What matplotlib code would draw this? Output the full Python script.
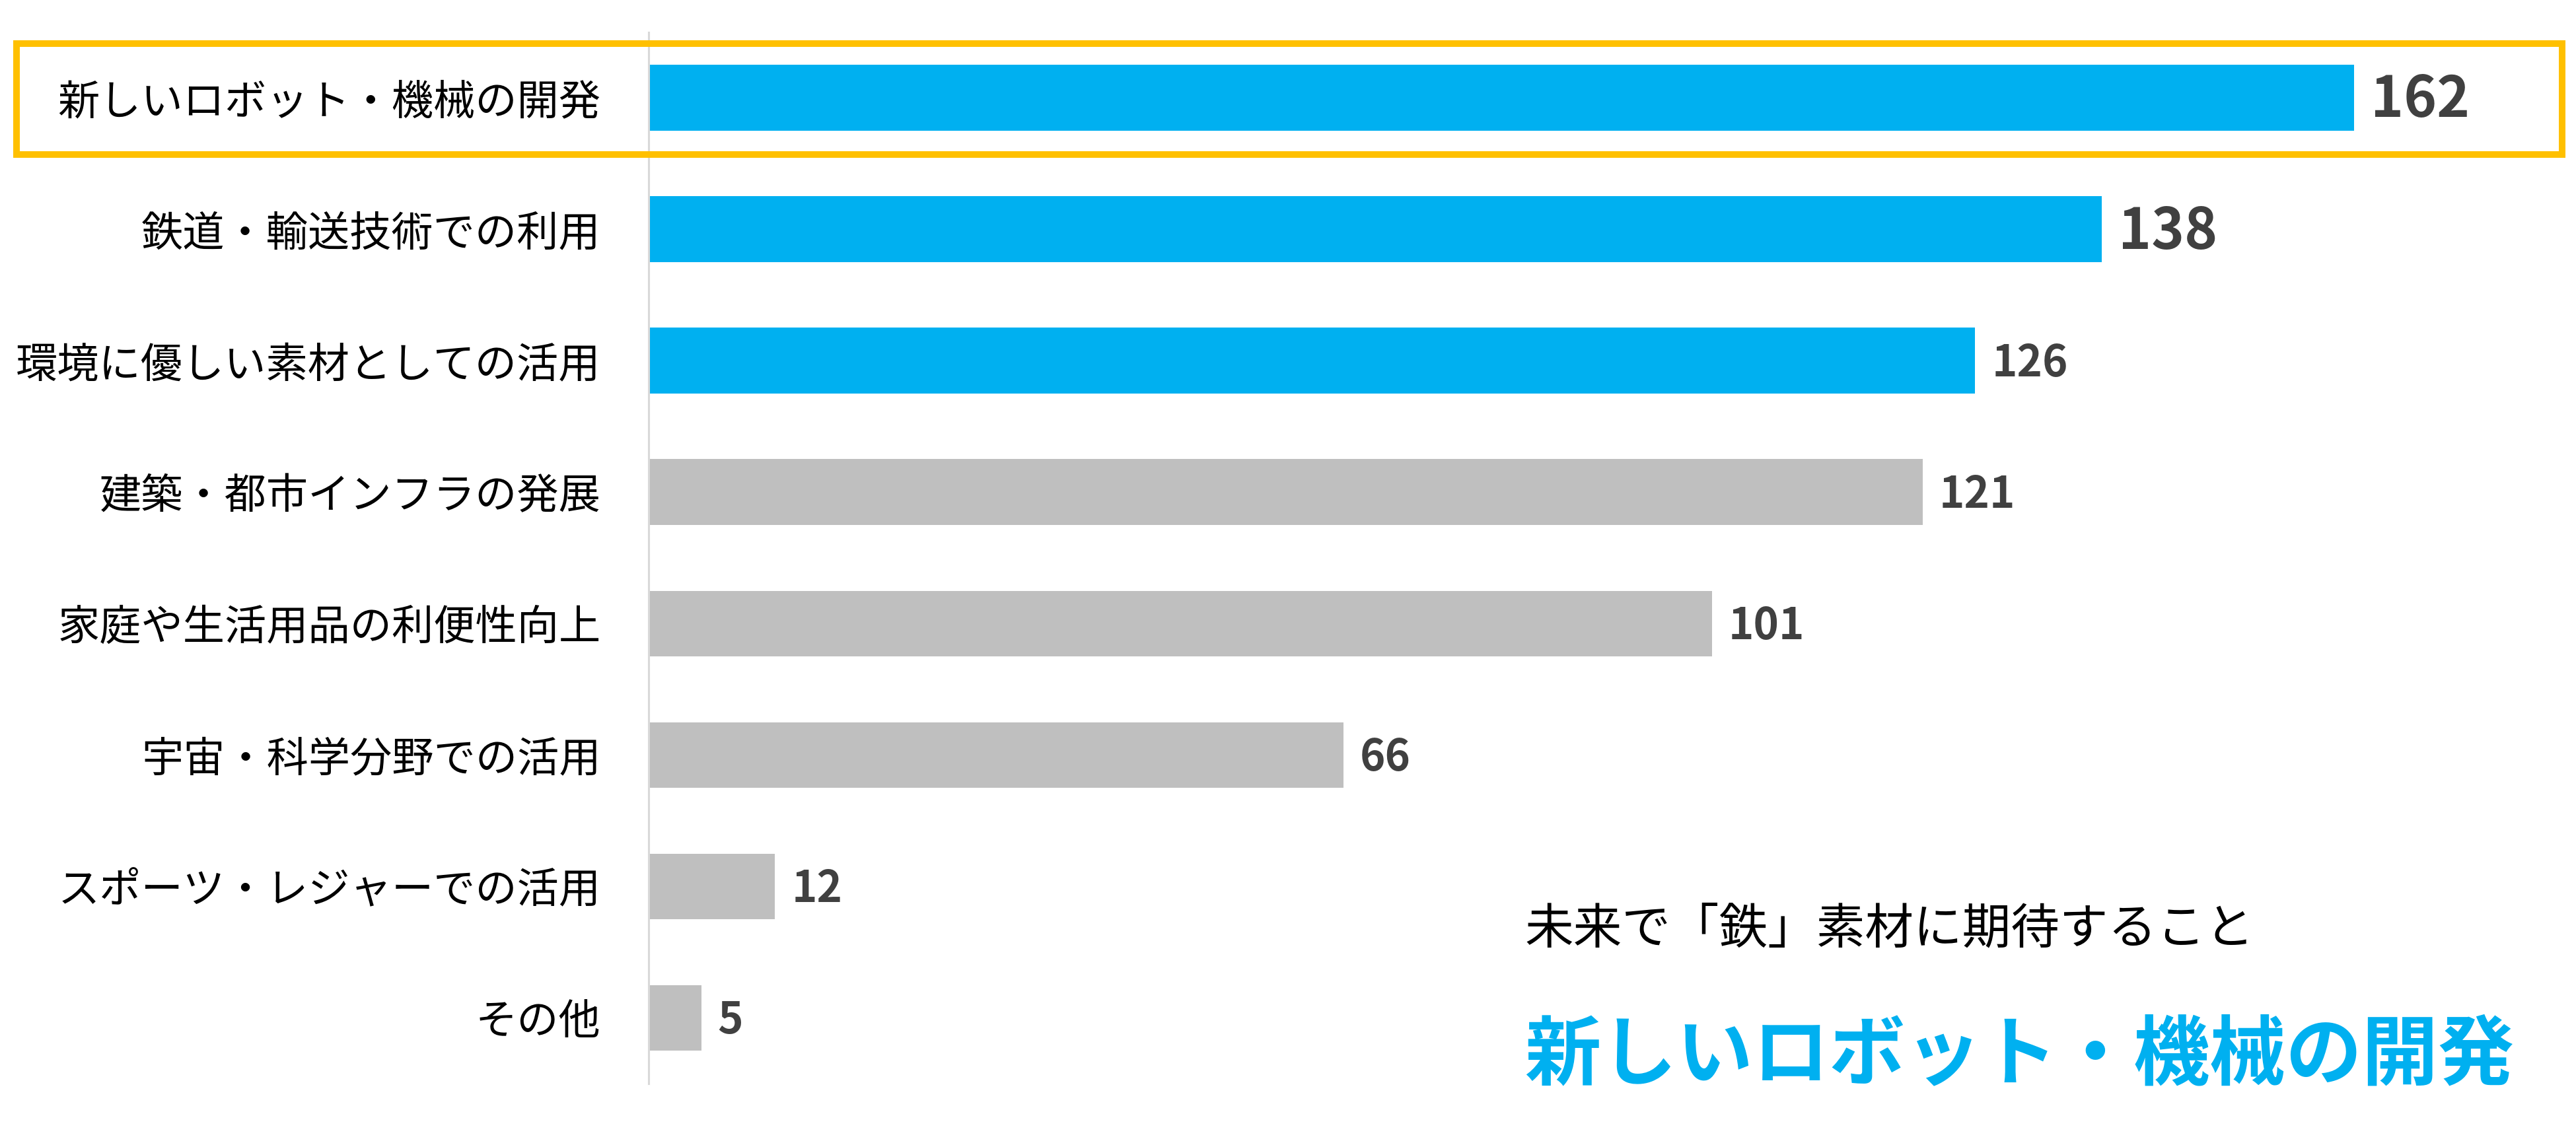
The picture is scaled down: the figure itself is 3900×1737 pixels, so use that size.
import matplotlib
matplotlib.use('Agg')
from matplotlib import pyplot as plt
from matplotlib.patches import Rectangle

plt.rcParams['font.family'] = ['Noto Sans CJK JP', 'DejaVu Sans']

# データ
categories = ['新しいロボット・機械の開発', '鉄道・輸送技術での利用', '環境に優しい素材としての活用',
              '建築・都市インフラの発展', '家庭や生活用品の利便性向上', '宇宙・科学分野での活用',
              'スポーツ・レジャーでの活用', 'その他']
counts = [162, 138, 126, 121, 101, 66, 12, 5]
caption = '未来で「鉄」素材に期待すること'
headline = '新しいロボット・機械の開発'

BLUE = '#00B0F0'
GREY = '#BFBFBF'
W, H = 3900, 1737

fig = plt.figure(figsize=(W / 100, H / 100), dpi=100)
ax = fig.add_axes([982 / W, 1 - 1641 / H, 1 - 982 / W, (1641 - 48.5) / H])

y = list(range(len(categories)))
colors = [BLUE if i < 3 else GREY for i in y]
ax.barh(y, counts, height=0.5, color=colors)
ax.set_ylim(len(categories) - 0.5, -0.5)
ax.set_xlim(0, (W - 982) / 15.94)

for i, v in enumerate(counts):
    size = 61 if i < 2 else 47
    ax.annotate(str(v), (v, i), xytext=(18, -3), textcoords='offset points',
                va='center', ha='left', fontsize=size, fontweight='bold', color='#404040')

ax.set_yticks(y)
ax.set_yticklabels(categories, fontsize=45.5)
ax.tick_params(axis='y', length=0, pad=52)
ax.set_xticks([])
for s in ['top', 'right', 'bottom']:
    ax.spines[s].set_visible(False)
ax.spines['left'].set_color('#D9D9D9')
ax.spines['left'].set_linewidth(2.2)

# ハイライト枠
fig.patches.append(Rectangle((25 / W, 1 - 234 / H), (3879 - 25) / W, (234 - 66) / H,
                             transform=fig.transFigure, fill=False,
                             edgecolor='#FFC000', linewidth=7.2))

fig.text(2308 / W, 1 - 1408 / H, caption, fontsize=53, va='center', ha='left', color='black')
fig.text(2308 / W, 1 - 1600 / H, headline, fontsize=83, va='center', ha='left',
         color=BLUE, fontweight='bold')

fig.savefig('out.png', dpi=100)
